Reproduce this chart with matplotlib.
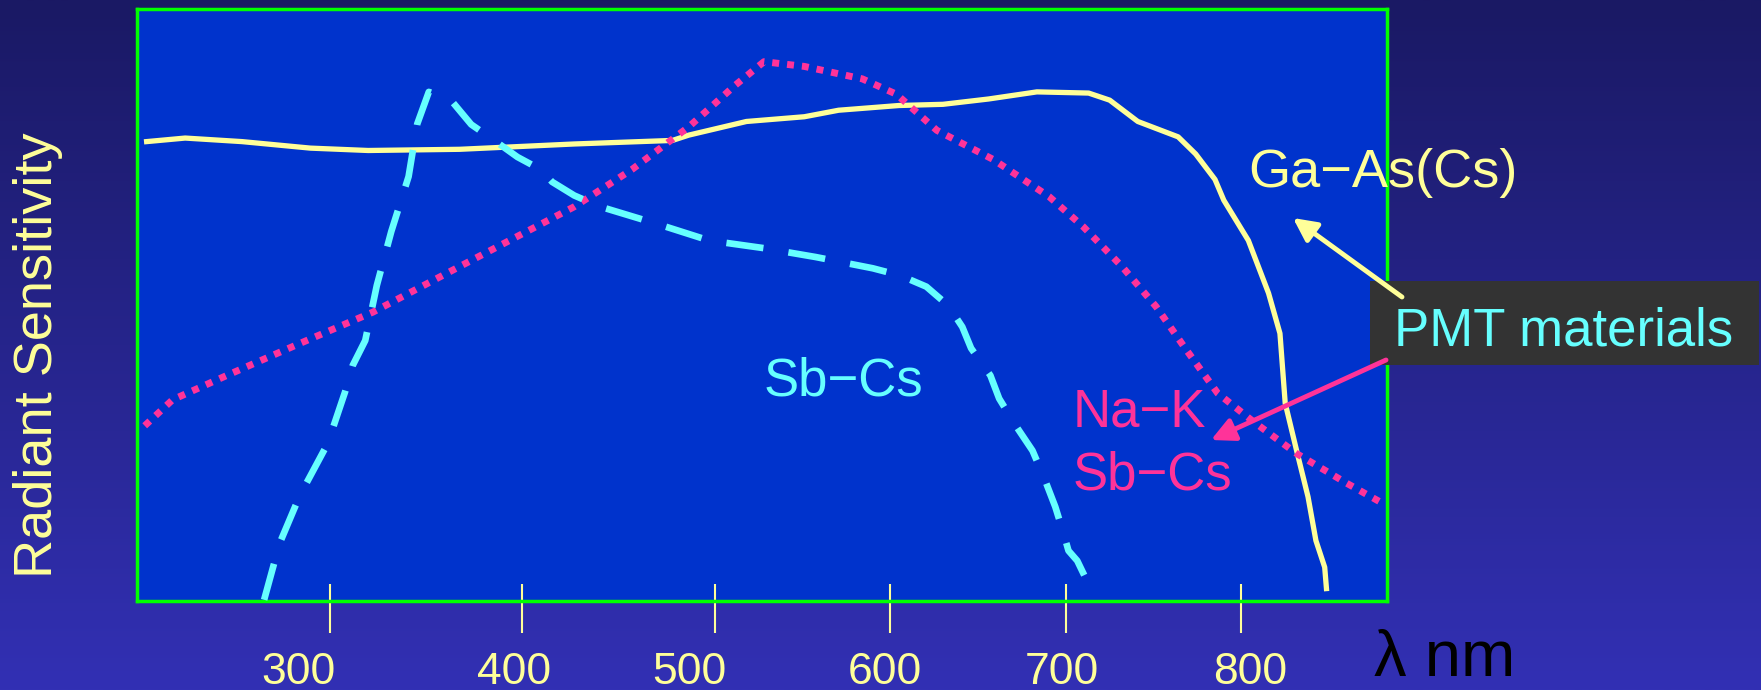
import numpy as np
import matplotlib.pyplot as plt
from matplotlib.colors import LinearSegmentedColormap
from matplotlib.patches import Rectangle, FancyArrowPatch

plt.rcParams['font.family'] = ['Liberation Sans', 'DejaVu Sans']

# radiant sensitivity (arbitrary units) vs wavelength (nm)
gaas_nm = [205, 225, 254.5, 290, 320, 367.5, 427, 478, 486.5, 518, 551, 570.5, 605, 630,
           656, 683.5, 713, 725, 741, 764, 774, 785, 790, 804, 815.5, 822, 825, 831.5,
           838, 842.5, 847.5, 848.5]
gaas_s = [77.6, 78.2, 77.6, 76.5, 76.1, 76.3, 77.2, 77.8, 78.7, 81.0, 81.8, 82.9, 83.7, 83.9,
          84.8, 86.0, 85.8, 84.6, 81.0, 78.4, 75.5, 71.2, 67.7, 60.9, 52.0, 45.2, 33.4, 25.4,
          17.6, 10.2, 5.7, 2.1]

nak_nm = [204, 218.5, 248, 284.5, 322.5, 367.5, 427, 457, 486.5, 511.5, 528, 551, 584, 603.5,
          626.5, 658.5, 690.5, 710, 732, 751.5, 767.5, 786.5, 806, 831.5, 860, 880.5]
nak_s = [29.6, 34.0, 38.3, 43.5, 48.8, 56.5, 66.6, 72.9, 80.1, 87.1, 91.1, 90.3, 88.2, 85.6,
         79.5, 74.6, 68.3, 63.2, 56.5, 49.7, 42.9, 35.1, 30.5, 24.9, 19.9, 16.5]

sbcs_nm = [266, 274, 284.5, 299, 308, 312, 318.5, 324.5, 332, 341, 345.5, 351.5, 363, 373.5,
           385.5, 397.5, 409.5, 415.5, 427, 440.5, 469, 497, 528, 557.5, 590, 605.5, 620.5,
           633, 641, 646, 657, 662, 671.5, 681, 687.5, 694, 698.5, 701.5, 706.5, 713]
sbcs_s = [0.2, 9.7, 17.8, 26.6, 35.3, 39.8, 44.0, 53.3, 62.4, 71.7, 80.6, 86.0, 84.6, 80.5,
          77.8, 75.0, 72.9, 70.8, 68.5, 66.6, 63.8, 60.9, 59.6, 58.1, 56.2, 55.0, 53.1,
          49.9, 46.3, 42.7, 38.1, 34.2, 29.6, 25.4, 20.9, 15.9, 11.6, 8.5, 6.8, 2.8]

tick_nm = [300, 400, 500, 600, 700, 800]
tick_labels = ['300', '400', '500', '600', '700', '800']
label_nm = [284, 396, 487, 597, 698, 805]

# the hand drawn axis is not evenly spaced: piecewise linear wavelength scale
scale_nm = [200, 500, 900]
scale_pos = [0.0, 514.5, 1139.5]


def fwd(x):
    return np.interp(x, scale_nm, scale_pos)


def inv(x):
    return np.interp(x, scale_pos, scale_nm)


YELLOW = '#ffff99'
CYAN = '#66ffff'
MAGENTA = '#ff3399'

fig = plt.figure(figsize=(17.61, 6.90), dpi=100)

# background gradient
bg = fig.add_axes([0, 0, 1, 1], zorder=-10)
cmap = LinearSegmentedColormap.from_list('bg', ['#1a1964', '#3230b4'])
bg.imshow(np.linspace(0, 1, 256).reshape(-1, 1), cmap=cmap, aspect='auto')
bg.axis('off')

ax = fig.add_axes([137 / 1761, 89 / 690, 1250 / 1761, 592 / 690])
ax.set_facecolor('#0033cc')
ax.set_xscale('function', functions=(fwd, inv))
ax.set_xlim(200, 883)
ax.set_ylim(0, 100)
for sp in ax.spines.values():
    sp.set_color('#00ff00')
    sp.set_linewidth(2.5)
ax.set_xticks([])
ax.set_yticks([])

ax.plot(gaas_nm, gaas_s, color=YELLOW, lw=3.8, solid_joinstyle='round', zorder=2)
ax.plot(nak_nm, nak_s, color=MAGENTA, lw=5, linestyle=(0, (1.0, 1.15)), dash_capstyle='butt', zorder=3)
ax.plot(sbcs_nm, sbcs_s, color=CYAN, lw=4.8, linestyle=(0, (5.6, 3.8)), dash_capstyle='butt', zorder=4)

# ticks cross the bottom frame
xt = ax.get_xaxis_transform()
ax.vlines(tick_nm, -0.054, 0.029, transform=xt, colors=YELLOW, lw=1.5, clip_on=False)
for x, lab in zip(label_nm, tick_labels):
    ax.text(x, -0.14, lab, transform=xt, ha='center', va='baseline', fontsize=32, color=YELLOW)

ax.text(528, 34.7, 'Sb\u2212Cs', color=CYAN, fontsize=38, ha='left', va='baseline')
ax.text(704, 29.4, 'Na\u2212K', color=MAGENTA, fontsize=38, ha='left', va='baseline')
ax.text(704, 18.8, 'Sb\u2212Cs', color=MAGENTA, fontsize=38, ha='left', va='baseline')
ax.text(804, 69.9, 'Ga\u2212As(Cs)', color=YELLOW, fontsize=39, ha='left', va='baseline', zorder=6)

fig.text(38 / 1761, 1 - 355 / 690, 'Radiant Sensitivity', rotation=90, ha='center', va='center',
         fontsize=39, color=YELLOW)
fig.text(1374 / 1761, 1 - 676 / 690, '\u03bb nm', fontsize=47, color='black', ha='left', va='baseline')

# "PMT materials" callout
fig.patches.append(Rectangle((1370 / 1761, 1 - 365 / 690), 389 / 1761, 84 / 690,
                             transform=fig.transFigure, facecolor='#333333', edgecolor='none', zorder=1))
fig.text(1564 / 1761, 1 - 345 / 690, 'PMT materials', fontsize=38, color=CYAN, ha='center', va='baseline', zorder=2)
fig.add_artist(FancyArrowPatch((1402 / 1761, 1 - 297 / 690), (1293 / 1761, 1 - 218 / 690),
                               transform=fig.transFigure, arrowstyle='-|>', mutation_scale=35,
                               color=YELLOW, lw=3.5, shrinkA=0, shrinkB=0, zorder=3))
fig.add_artist(FancyArrowPatch((1386 / 1761, 1 - 360 / 690), (1211 / 1761, 1 - 440 / 690),
                               transform=fig.transFigure, arrowstyle='-|>', mutation_scale=35,
                               color=MAGENTA, lw=3.5, shrinkA=0, shrinkB=0, zorder=3))

fig.savefig('out.png', dpi=100)
